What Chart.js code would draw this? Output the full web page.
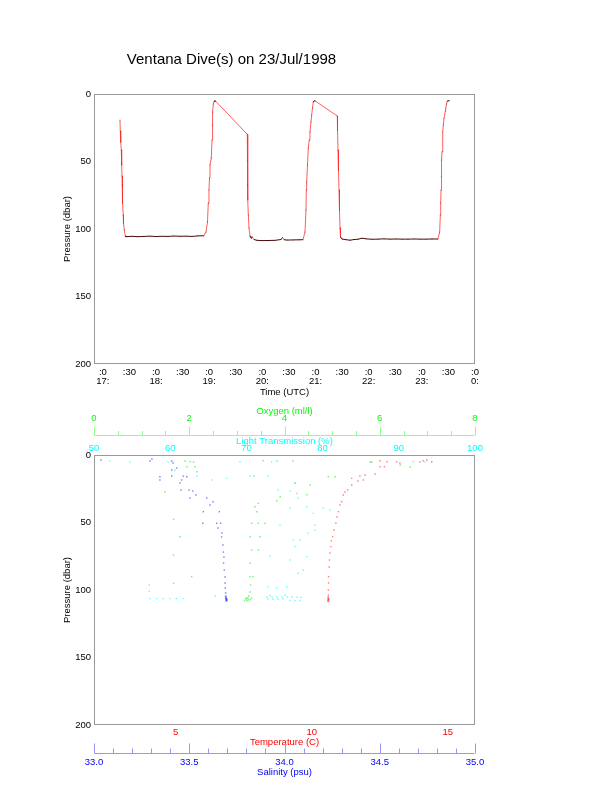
<!DOCTYPE html>
<html>
<head>
<meta charset="utf-8">
<script src="https://cdn.jsdelivr.net/npm/chart.js@4.4.1/dist/chart.umd.min.js"></script>
<style>
  body { margin: 0; background: #fff; }
  #wrap { position: relative; width: 612px; height: 785px; }
  canvas { position: absolute; left: 0; }
</style>
</head>
<body>
<div id="wrap">
  <canvas id="diveChart" width="612" height="400" style="top:0px"></canvas>
  <canvas id="profChart" width="612" height="385" style="top:400px"></canvas>
</div>
<script>
// Ventana dive plot: pressure vs time (top) and profiles vs pressure (bottom)

// --- top plot: pressure along the dive (time in decimal hours UTC)
const diveTime = [
  17.322, 17.328, 17.336, 17.347, 17.354, 17.360, 17.366, 17.373, 17.384, 17.388, 17.403, 17.422,
  17.435, 17.548, 17.661, 17.774, 17.887, 18.000, 18.112, 18.225, 18.338, 18.451, 18.564, 18.677, 18.790, 18.900,
  18.940, 18.968, 18.983, 18.996, 19.006, 19.015, 19.040, 19.053, 19.059, 19.068, 19.078, 19.091, 19.106, 19.119,
  19.717, 19.721, 19.725, 19.730, 19.736, 19.749, 19.768, 19.787, 19.805, 19.843, 19.900,
  20.012, 20.125, 20.238, 20.351, 20.379, 20.407, 20.464, 20.576, 20.689, 20.765,
  20.802, 20.821, 20.827, 20.834, 20.849, 20.864, 20.883, 20.896, 20.915, 20.928, 20.943, 20.958, 20.977, 20.996,
  21.410, 21.414, 21.423, 21.432, 21.442, 21.451, 21.461, 21.470, 21.498,
  21.573, 21.649, 21.724, 21.799, 21.874, 21.950, 22.062, 22.175, 22.288, 22.401, 22.514, 22.627, 22.740,
  22.853, 22.965, 23.078, 23.191, 23.304,
  23.336, 23.348, 23.355, 23.361, 23.367, 23.374, 23.380, 23.393, 23.404, 23.417, 23.442, 23.449, 23.464,
  23.479, 23.498, 23.517
]
const divePress = [
  19.3, 27.4, 35.6, 41.5, 52.6, 60.7, 67.4, 80.7, 89.6, 95.6, 100.7, 105.2,
  105.7, 105.4, 105.7, 105.5, 105.3, 105.6, 105.4, 105.5, 105.2, 105.4, 105.3, 105.5, 105.1, 105.0,
  102.2, 94.8, 80.7, 71.1, 62.2, 52.6, 47.4, 34.1, 23.0, 13.3, 7.4, 5.6, 5.0, 5.2,
  29.9, 48.9, 67.4, 78.5, 89.6, 99.3, 105.2, 106.7, 105.7, 107.8, 108.4,
  108.6, 108.5, 108.4, 107.8, 106.3, 107.9, 108.2, 108.1, 108.0, 107.9,
  102.2, 85.9, 71.1, 65.2, 52.6, 40.0, 34.1, 27.9, 20.7, 15.6, 10.4, 5.9, 5.0, 5.2,
  16.3, 26.7, 41.5, 56.3, 71.1, 85.9, 99.3, 105.9, 107.4,
  107.9, 108.3, 107.8, 107.6, 106.8, 107.3, 107.6, 107.5, 107.3, 107.5, 107.4, 107.5, 107.5,
  107.4, 107.5, 107.5, 107.4, 107.4,
  102.2, 89.6, 80.7, 71.1, 61.3, 48.9, 42.7, 27.9, 23.0, 18.0, 12.6, 10.6, 7.4,
  5.2, 5.0, 5.0
]

// --- bottom plot: profiles (value, pressure)
const salValue = [33.037, 33.294, 33.304, 33.408, 33.415, 33.434, 33.408, 33.346, 33.408, 33.487, 33.469, 33.346,
  33.460, 33.451, 33.457, 33.499, 33.518, 33.504, 33.535, 33.592, 33.625, 33.609, 33.574, 33.658, 33.571, 33.644,
  33.665, 33.651, 33.672, 33.670, 33.677, 33.679, 33.682, 33.680, 33.684, 33.688, 33.688, 33.689, 33.691, 33.693,
  33.695, 33.691, 33.696, 33.693, 33.698, 33.690, 33.694, 33.697]
const salPress = [3.7, 4.4, 3.0, 4.4, 5.9, 9.6, 11.1, 16.1, 15.6, 16.1, 15.6, 18.5,
  18.5, 20.7, 25.9, 25.9, 26.7, 31.9, 29.6, 31.9, 34.6, 37.0, 42.0, 42.0, 50.6, 50.6,
  50.6, 54.1, 57.8, 60.7, 66.7, 71.9, 75.6, 80.0, 85.2, 90.4, 94.8, 98.5, 102.2, 104.4,
  105.9, 106.7, 107.4, 108.1, 107.0, 105.2, 106.3, 107.8]

const tempValue = [14.10, 14.23, 14.41, 13.98, 13.12, 12.76, 12.51, 12.20, 12.51, 12.67, 13.24, 12.33, 11.96,
  11.77, 11.47, 11.90, 11.70, 11.47, 11.32, 11.22, 11.16, 11.10, 11.04, 10.98, 10.93, 10.89, 10.82, 10.77,
  10.72, 10.70, 10.67, 10.65, 10.64, 10.62, 10.62, 10.61, 10.61, 10.60, 10.62, 10.59, 10.63, 10.61, 10.60, 10.62]
const tempPress = [4.2, 3.7, 5.0, 5.2, 5.0, 5.0, 4.2, 5.2, 8.7, 8.7, 5.9, 14.1, 14.8,
  15.6, 17.3, 18.5, 19.3, 22.2, 25.9, 27.4, 29.6, 34.6, 37.0, 42.0, 45.9, 50.6, 55.6, 60.5,
  63.7, 67.9, 72.6, 77.8, 83.0, 90.1, 94.8, 100.0, 103.7, 106.1, 107.4, 108.1, 106.7, 105.2, 107.0, 108.4]

const oxyValue = [2.02, 2.09, 1.91, 1.95, 2.12, 2.16, 3.55, 3.84, 4.18, 5.80, 6.43, 6.64, 4.92, 5.06, 3.36,
  3.91, 3.84, 4.26, 4.47, 4.54, 4.22, 3.38, 3.45, 3.42, 3.59, 3.31, 3.45, 3.28, 3.49, 3.31, 3.45, 3.28,
  3.28, 3.34, 3.29, 3.28, 3.25, 3.23, 3.19, 3.28, 3.21, 3.31, 3.16, 3.24, 3.20,
  1.49, 1.67, 1.81, 1.67, 2.05, 1.67]
const oxyPress = [5.0, 5.2, 4.4, 8.7, 8.7, 12.4, 4.2, 4.4, 4.4, 5.2, 7.4, 8.9, 16.1, 16.1, 15.6,
  30.9, 33.9, 28.4, 29.4, 22.2, 20.7, 38.3, 35.8, 42.0, 50.6, 50.6, 50.6, 60.5, 60.5, 70.4, 70.4, 80.2,
  90.1, 90.1, 96.3, 101.5, 104.4, 105.9, 106.7, 107.0, 107.8, 105.9, 108.1, 107.4, 106.0,
  27.2, 47.6, 60.5, 74.1, 90.1, 95.0]

const lightValue = [72.70, 73.36, 74.02, 74.67, 75.33, 75.98, 76.64, 77.17, 72.83, 73.49, 74.15, 74.80, 75.72,
  76.38, 77.03, 75.07, 73.10,
  76.38, 74.19, 75.72, 76.81, 75.72, 77.91, 78.78, 79.00, 78.12, 76.16, 76.38, 77.91, 75.72, 77.47, 76.81,
  75.29, 73.10, 72.87, 73.97, 70.47, 72.87, 67.41, 63.48, 65.45, 80.09, 80.97, 79.00, 74.41, 77.03, 65.88,
  52.10, 54.72, 69.16, 73.32, 91.90, 93.44, 59.71, 60.63,
  57.35, 58.23, 59.10, 59.95, 60.80, 61.68, 57.25, 57.25]
const lightPress = [105.2, 105.2, 105.0, 105.2, 105.4, 105.2, 105.4, 105.6, 106.7, 106.7, 106.9, 106.7, 107.8,
  107.9, 107.8, 103.7, 104.1,
  21.0, 25.9, 26.7, 31.9, 39.5, 38.3, 43.2, 55.6, 58.0, 63.0, 67.9, 75.3, 77.8, 85.2, 87.6,
  97.6, 74.8, 97.6, 98.7, 15.6, 15.6, 17.3, 15.6, 18.5, 39.5, 40.7, 51.9, 51.9, 63.0, 104.4,
  4.4, 5.2, 5.0, 5.2, 5.0, 5.2, 5.2, 11.1,
  106.4, 106.4, 106.4, 106.4, 106.4, 106.4, 96.3, 101.0]

// --- axis ticks
const timeTicks = [17, 17.5, 18, 18.5, 19, 19.5, 20, 20.5, 21, 21.5, 22, 22.5, 23, 23.5, 24]
const pressTicks = [0, 50, 100, 150, 200]
const tempTicks = [5, 10, 15]
const salTicks = [33.0, 33.5, 34.0, 34.5, 35.0]
const oxyTicks = [0, 2, 4, 6, 8]
const lightTicks = [50, 60, 70, 80, 90, 100]

function steps(a, b, d, skip) {
  const out = []
  for (let v = a; v <= b + 1e-9; v += d) {
    const r = Math.round(v * 1000) / 1000
    if (!skip.some(s => Math.abs(s - r) < 1e-6)) out.push(r)
  }
  return out
}

const lineRed = 'rgba(255,40,40,0.75)'
const darkRed = '#4a0a0a'
const frameGray = '#9a9a9a'
const fontFam = "'Liberation Sans', Arial, Helvetica, sans-serif"

Chart.defaults.font.family = fontFam
Chart.defaults.font.size = 9.5
Chart.defaults.color = '#000'

// inward IDL style tick marks + frame
const idlAxes = {
  id: 'idlAxes',
  afterDatasetsDraw(chart, args, opts) {
    const { ctx, chartArea: a } = chart
    ctx.save()
    ctx.lineWidth = 1
    ctx.strokeStyle = frameGray
    const L = Math.round(a.left) + 0.5, R = Math.round(a.right) - 0.5
    const T = Math.round(a.top) + 0.5, B = Math.round(a.bottom) - 0.5
    ctx.strokeRect(L, T, R - L, B - T)
    opts.axes.forEach(ax => {
      const s = chart.scales[ax.id]
      const horiz = s.isHorizontal()
      let base = { left: L, right: R, top: T, bottom: B }[ax.side] + (ax.shift || 0)
      let dir = ax.dir || ({ left: 1, right: -1, top: 1, bottom: -1 }[ax.side])
      ctx.strokeStyle = ax.color
      ctx.beginPath()
      if (ax.line) {
        if (horiz) { ctx.moveTo(L, base); ctx.lineTo(R, base) }
        else { ctx.moveTo(base, T); ctx.lineTo(base, B) }
      }
      const mark = (v, len) => {
        const p = Math.round(s.getPixelForValue(v)) + 0.5
        if (horiz) { ctx.moveTo(p, base); ctx.lineTo(p, base + dir * len) }
        else { ctx.moveTo(base, p); ctx.lineTo(base + dir * len, p) }
      }
      ax.major.forEach(v => mark(v, ax.len))
      ;(ax.minor || []).forEach(v => mark(v, ax.minorLen))
      ctx.stroke()
    })
    ctx.restore()
  }
}

const plotTitle = {
  id: 'plotTitle',
  afterDraw(chart, args, opts) {
    if (!opts.text) return
    const ctx = chart.ctx
    ctx.save()
    ctx.font = '15px ' + fontFam
    ctx.fillStyle = '#000'
    ctx.textAlign = 'center'
    ctx.textBaseline = 'middle'
    ctx.fillText(opts.text, opts.x, opts.y)
    ctx.restore()
  }
}

function fixedTicks(list) {
  return s => { s.ticks = list.map(v => ({ value: v })) }
}

function pressureAxis(title) {
  return {
    type: 'linear', position: 'left', reverse: true, min: 0, max: 200,
    afterBuildTicks: fixedTicks(pressTicks),
    afterFit: s => { s.width = 94 },
    grid: { display: false, drawTicks: false, tickLength: 0 },
    border: { display: false },
    ticks: { padding: 3, color: '#000' },
    title: { display: true, text: title, color: '#000', padding: { top: 61.3, bottom: 0 } }
  }
}

const pressMinor = steps(0, 200, 10, pressTicks)

// top chart
new Chart(document.getElementById('diveChart'), {
  type: 'line',
  data: {
    datasets: [{
      data: diveTime.map((t, i) => ({ x: t, y: divePress[i] })),
      borderColor: lineRed,
      borderWidth: 1,
      pointRadius: 0.5,
      pointBorderWidth: 0,
      pointBackgroundColor: 'rgba(70,10,10,0.6)',
      tension: 0,
      segment: {
        borderColor: c => (Math.abs(c.p1.parsed.y - c.p0.parsed.y) < 1.6 && c.p1.parsed.x - c.p0.parsed.x < 0.15) ? darkRed : lineRed
      }
    }]
  },
  options: {
    responsive: false, animation: false, devicePixelRatio: 1,
    layout: { padding: { left: 0, right: 137, top: 94, bottom: 0 } },
    plugins: {
      legend: { display: false }, tooltip: { enabled: false },
      plotTitle: { text: 'Ventana Dive(s) on 23/Jul/1998', x: 231.5, y: 60 },
      idlAxes: {
        axes: [
          { id: 'y', side: 'left', major: pressTicks, minor: pressMinor, len: 8, minorLen: 4, color: frameGray },
          { id: 'y', side: 'right', major: pressTicks, minor: pressMinor, len: 8, minorLen: 4, color: frameGray },
          { id: 'x', side: 'bottom', major: timeTicks.filter(v => v % 1 === 0), minor: timeTicks.filter(v => v % 1 !== 0), len: 6, minorLen: 3.5, color: frameGray },
          { id: 'x', side: 'top', major: timeTicks.filter(v => v % 1 === 0), minor: timeTicks.filter(v => v % 1 !== 0), len: 6, minorLen: 3.5, color: frameGray }
        ]
      }
    },
    scales: {
      x: {
        type: 'linear', min: 16.8333, max: 24,
        afterBuildTicks: fixedTicks(timeTicks),
        afterFit: s => { s.height = 36 },
        grid: { display: false, drawTicks: false, tickLength: 0 },
        border: { display: false },
        ticks: {
          autoSkip: false, maxRotation: 0, padding: 3.25, color: '#000', font: { lineHeight: 1 },
          callback: v => v % 1 === 0 ? [':0', (v % 24) + ':'] : ':30'
        },
        title: { display: true, text: 'Time (UTC)', color: '#000', padding: { top: 0, bottom: 2.3 } }
      },
      y: pressureAxis('Pressure (dbar)')
    }
  },
  plugins: [idlAxes, plotTitle]
})

function profile(values, press, color, axis) {
  return {
    xAxisID: axis,
    data: values.map((v, i) => ({ x: v, y: press[i] })),
    pointStyle: 'rect',
    pointRadius: 1,
    pointBorderWidth: 0,
    pointBackgroundColor: color,
    showLine: false
  }
}

function valueAxis(pos, weight, min, max, list, color, title, size, tickPad, titlePad, fmt) {
  return {
    type: 'linear', position: pos, weight: weight, min: min, max: max,
    afterBuildTicks: fixedTicks(list),
    afterFit: s => { s.height = size },
    grid: { display: false, drawTicks: false, tickLength: 0 },
    border: { display: false },
    ticks: { autoSkip: false, maxRotation: 0, padding: tickPad, color: color, callback: fmt || (v => v) },
    title: { display: true, text: title, color: color, padding: titlePad }
  }
}

// bottom chart
new Chart(document.getElementById('profChart'), {
  type: 'scatter',
  data: {
    datasets: [
      profile(lightValue, lightPress, 'rgba(0,255,255,0.6)', 'lt'),
      profile(oxyValue, oxyPress, 'rgba(0,230,0,0.55)', 'oxy'),
      profile(salValue, salPress, 'rgba(0,0,255,0.5)', 'sal'),
      profile(tempValue, tempPress, 'rgba(255,0,0,0.5)', 'temp')
    ]
  },
  options: {
    responsive: false, animation: false, devicePixelRatio: 1,
    layout: { padding: { left: 0, right: 137, top: 5, bottom: 7 } },
    plugins: {
      legend: { display: false }, tooltip: { enabled: false },
      idlAxes: {
        axes: [
          { id: 'y', side: 'left', major: pressTicks, minor: pressMinor, len: 8, minorLen: 4, color: frameGray },
          { id: 'y', side: 'right', major: pressTicks, minor: pressMinor, len: 8, minorLen: 4, color: frameGray },
          { id: 'lt', side: 'top', line: true, major: lightTicks, minor: steps(50, 100, 1, lightTicks), len: 7, minorLen: 4, color: '#8cffff' },
          { id: 'oxy', side: 'top', shift: -20, dir: -1, line: true, major: oxyTicks, minor: steps(0, 8, 0.5, oxyTicks), len: 9, minorLen: 4.5, color: '#8cff8c' },
          { id: 'temp', side: 'bottom', line: true, major: tempTicks, minor: steps(3, 15, 1, tempTicks), len: 10.5, minorLen: 5.3, color: '#ff9696' },
          { id: 'sal', side: 'bottom', shift: 29, line: true, major: salTicks, minor: steps(33, 35, 0.1, salTicks), len: 10, minorLen: 5, color: '#9696ff' }
        ]
      }
    },
    scales: {
      lt: valueAxis('top', 0, 50, 100, lightTicks, '#00ffff', 'Light Transmission (%)', 19, 1.3, { top: 0, bottom: 0 }),
      oxy: valueAxis('top', 1, 0, 8, oxyTicks, '#00ff00', 'Oxygen (ml/l)', 31, 12.3, { top: 0.3, bottom: 0 }),
      temp: valueAxis('bottom', 0, 2, 16, tempTicks, '#ff0000', 'Temperature (C)', 23, 1.3, { top: 0, bottom: 0.3 }),
      sal: valueAxis('bottom', 1, 33, 35, salTicks, '#0000ff', 'Salinity (psu)', 30, 8.3, { top: 0, bottom: 0.3 }, v => v.toFixed(1)),
      y: pressureAxis('Pressure (dbar)')
    }
  },
  plugins: [idlAxes]
})
</script>
</body>
</html>
